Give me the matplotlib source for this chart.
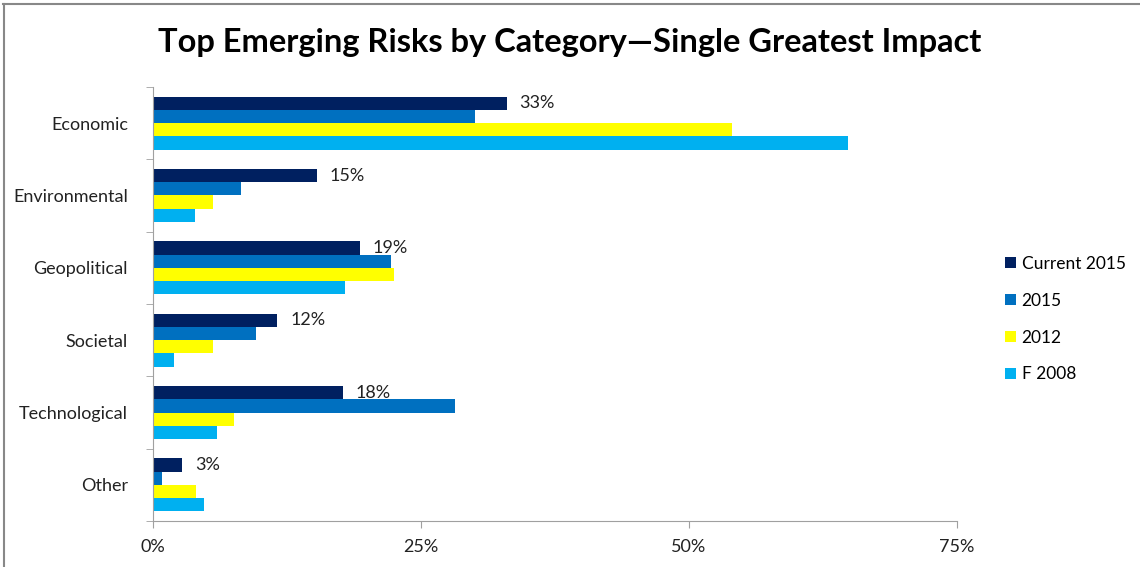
import matplotlib
matplotlib.use("Agg")
import matplotlib.pyplot as plt
import numpy as np
from matplotlib.lines import Line2D

plt.rcParams['font.family'] = ['Lato', 'DejaVu Sans']

categories = ["Economic", "Environmental", "Geopolitical", "Societal", "Technological", "Other"]
series_names = ["Current 2015", "2015", "2012", "F 2008"]
current_2015 = [33, 15.3, 19.3, 11.6, 17.7, 2.7]
y2015 = [30.0, 8.2, 22.2, 9.6, 28.2, 0.8]
y2012 = [54.0, 5.6, 22.5, 5.6, 7.6, 4.0]
f2008 = [64.8, 3.9, 17.9, 2.0, 6.0, 4.8]
label_texts = ["33%", "15%", "19%", "12%", "18%", "3%"]
colors = ["#002060", "#0070C0", "#FFFF00", "#00B0F0"]
xticks = [0, 25, 50, 75]
xticklabels = ["0%", "25%", "50%", "75%"]

fig = plt.figure(figsize=(11.4, 5.67), dpi=100)
ax = fig.add_axes([0.1342, 0.0811, 0.7053, 0.7655])

series = [current_2015, y2015, y2012, f2008]
n = len(categories)
bh = 0.183
ypos = np.arange(n)
for i, (vals, c, name) in enumerate(zip(series, colors, series_names)):
    offs = (i - 1.5) * bh
    ax.barh(ypos + offs, vals, height=bh, color=c, label=name, edgecolor='none')

for yy, v, t in zip(ypos, current_2015, label_texts):
    ax.text(v + 1.2, yy - 1.5 * bh, t, va='center', ha='left', fontsize=13, color='#222222')

ax.set_ylim(n - 0.5, -0.5)
ax.set_xlim(0, 75)
ax.set_xticks(xticks)
ax.set_xticklabels(xticklabels, fontsize=13, color='#222222')
ax.set_yticks(ypos)
ax.set_yticklabels(categories, fontsize=13, color='#222222')
ax.set_yticks(np.arange(n + 1) - 0.5, minor=True)
ax.tick_params(axis='y', which='major', length=0, pad=18)
ax.tick_params(axis='y', which='minor', length=5, color='#a0a0a0', direction='out')
ax.tick_params(axis='x', which='major', length=5, color='#a0a0a0', direction='out', pad=8)
for s in ['top', 'right']:
    ax.spines[s].set_visible(False)
for s in ['left', 'bottom']:
    ax.spines[s].set_color('#a0a0a0')

fig.text(0.5, 0.925, "Top Emerging Risks by Category\u2014Single Greatest Impact",
         ha='center', va='center', fontsize=23.5, fontweight='bold', color='black')

leg = fig.legend(loc='center left', bbox_to_anchor=(0.868, 0.437), frameon=False,
                 fontsize=12.5, handlelength=0.6, handleheight=0.6, labelspacing=1.2,
                 handletextpad=0.35)

fig.lines.append(Line2D([0.003, 1.0], [0.993, 0.993], transform=fig.transFigure,
                        color='#888888', linewidth=1.5))
fig.lines.append(Line2D([0.0035, 0.0035], [0.0, 0.993], transform=fig.transFigure,
                        color='#888888', linewidth=1.5))

fig.savefig("out.png", dpi=100)
